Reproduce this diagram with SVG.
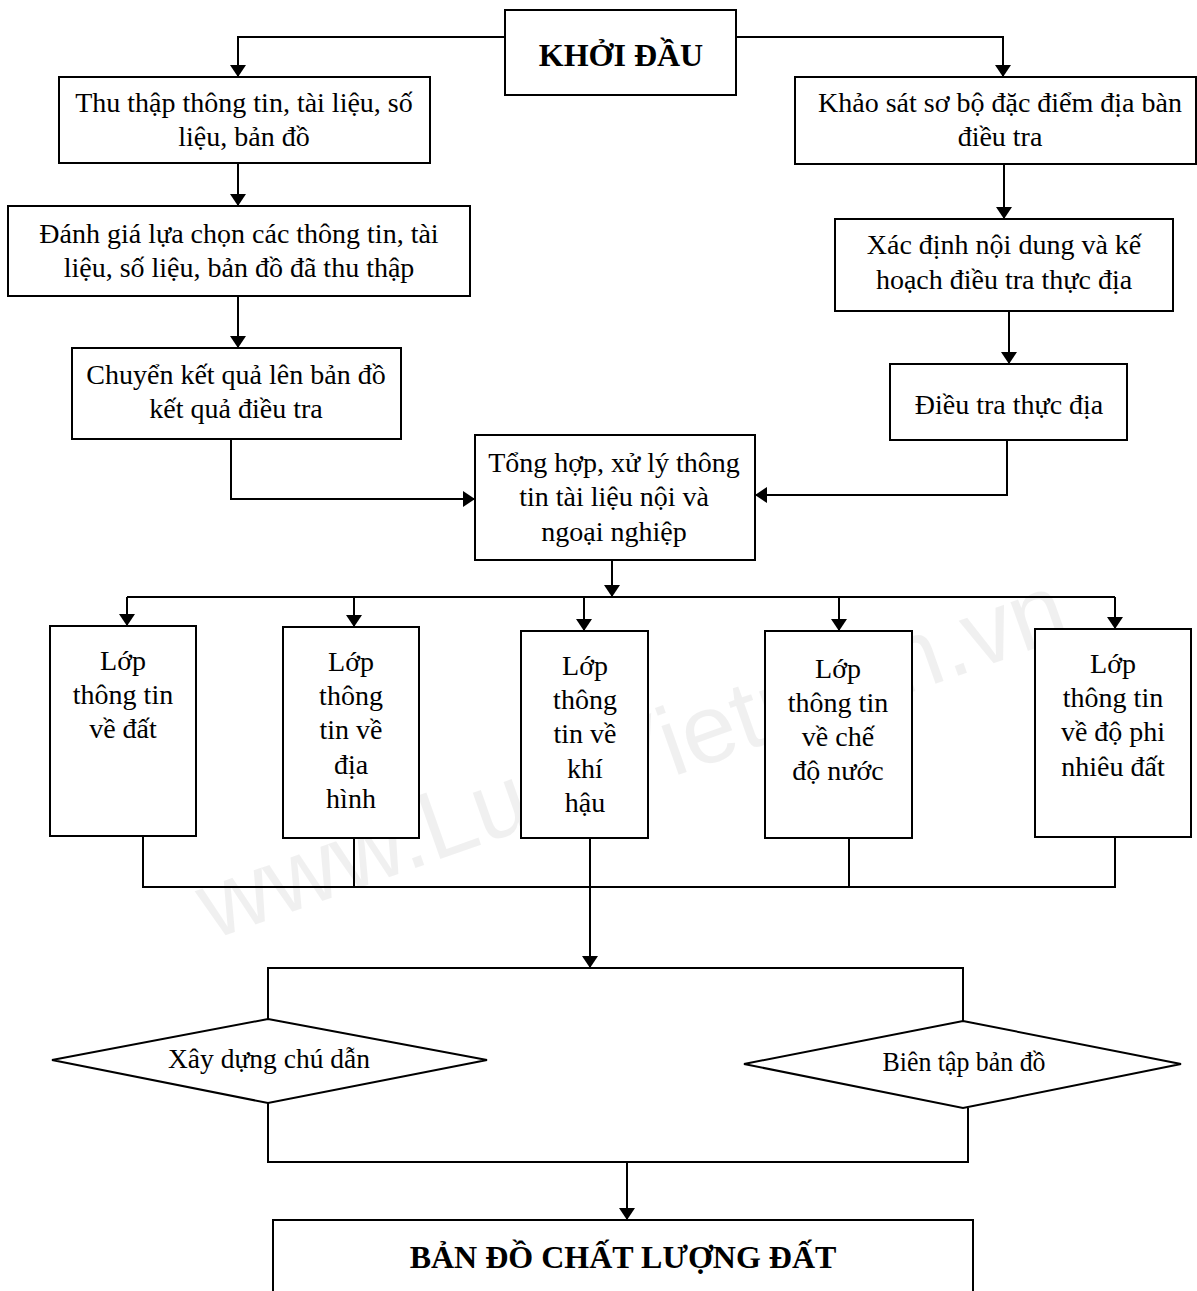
<svg xmlns="http://www.w3.org/2000/svg" width="1197" height="1291" viewBox="0 0 1197 1291">
<style>
.box{fill:#fff;stroke:#000;stroke-width:2}
.t{font-family:"Liberation Serif","Times New Roman",serif;font-size:28px;fill:#000;text-anchor:middle}
.b{font-weight:bold;font-size:32px}
.d{font-size:27px}
.c{fill:none;stroke:#000;stroke-width:2}
.wm{font-family:"Liberation Sans",Arial,sans-serif;font-size:98px;fill:#000;fill-opacity:0.06}
</style>
<defs>
<marker id="ah" viewBox="0 0 12 16" refX="12" refY="8" markerWidth="12" markerHeight="16" markerUnits="userSpaceOnUse" orient="auto">
<path d="M0,0 L12,8 L0,16 Z" fill="#000"/>
</marker>
</defs>
<rect width="1197" height="1291" fill="#fff"/>
<text class="wm" transform="translate(212,940) rotate(-19.5)">www.LuatVietnam.vn</text>

<g id="connectors">
<path class="c" d="M505,37 H238 V77" marker-end="url(#ah)"/>
<path class="c" d="M736,37 H1003 V77" marker-end="url(#ah)"/>
<path class="c" d="M238,163 V206" marker-end="url(#ah)"/>
<path class="c" d="M1004,164 V219" marker-end="url(#ah)"/>
<path class="c" d="M238,296 V348" marker-end="url(#ah)"/>
<path class="c" d="M1009,311 V364" marker-end="url(#ah)"/>
<path class="c" d="M231,439 V499 H475" marker-end="url(#ah)"/>
<path class="c" d="M1007,440 V495 H755" marker-end="url(#ah)"/>
<path class="c" d="M127,597 H1115"/>
<path class="c" d="M612,560 V597" marker-end="url(#ah)"/>
<path class="c" d="M127,597 V626" marker-end="url(#ah)"/>
<path class="c" d="M354,597 V627" marker-end="url(#ah)"/>
<path class="c" d="M584,597 V631" marker-end="url(#ah)"/>
<path class="c" d="M839,597 V631" marker-end="url(#ah)"/>
<path class="c" d="M1115,597 V629" marker-end="url(#ah)"/>
<path class="c" d="M143,836 V887 H1115 V837"/>
<path class="c" d="M354,838 V887"/>
<path class="c" d="M849,838 V887"/>
<path class="c" d="M590,838 V968" marker-end="url(#ah)"/>
<path class="c" d="M268,1019 V968 H963 V1021"/>
<path class="c" d="M268,1103 V1162 H968 V1108"/>
<path class="c" d="M627,1162 V1220" marker-end="url(#ah)"/>
</g>

<g id="start">
<rect class="box" x="505" y="10" width="231" height="85"/>
<text class="t b" x="621" y="66">KHỞI ĐẦU</text>
</g>
<g id="n-thuthap">
<rect class="box" x="59" y="77" width="371" height="86"/>
<text class="t" x="244" y="112">Thu thập thông tin, tài liệu, số</text>
<text class="t" x="244" y="146">liệu, bản đồ</text>
</g>
<g id="n-danhgia">
<rect class="box" x="8" y="206" width="462" height="90"/>
<text class="t" x="239" y="243">Đánh giá lựa chọn các thông tin, tài</text>
<text class="t" x="239" y="277">liệu, số liệu, bản đồ đã thu thập</text>
</g>
<g id="n-chuyen">
<rect class="box" x="72" y="348" width="329" height="91"/>
<text class="t" x="236" y="384">Chuyển kết quả lên bản đồ</text>
<text class="t" x="236" y="418">kết quả điều tra</text>
</g>
<g id="n-khaosat">
<rect class="box" x="795" y="77" width="401" height="87"/>
<text class="t" x="1000" y="112">Khảo sát sơ bộ đặc điểm địa bàn</text>
<text class="t" x="1000" y="146">điều tra</text>
</g>
<g id="n-xacdinh">
<rect class="box" x="835" y="219" width="338" height="92"/>
<text class="t" x="1004" y="254">Xác định nội dung và kế</text>
<text class="t" x="1004" y="289">hoạch điều tra thực địa</text>
</g>
<g id="n-dieutra">
<rect class="box" x="890" y="364" width="237" height="76"/>
<text class="t" x="1009" y="414">Điều tra thực địa</text>
</g>
<g id="n-tonghop">
<rect class="box" x="475" y="435" width="280" height="125"/>
<text class="t" x="614" y="472">Tổng hợp, xử lý thông</text>
<text class="t" x="614" y="506">tin tài liệu nội và</text>
<text class="t" x="614" y="541">ngoại nghiệp</text>
</g>
<g id="n-dat">
<rect class="box" x="50" y="626" width="146" height="210"/>
<text class="t" x="123" y="670">Lớp</text>
<text class="t" x="123" y="704">thông tin</text>
<text class="t" x="123" y="738">về đất</text>
</g>
<g id="n-diahinh">
<rect class="box" x="283" y="627" width="136" height="211"/>
<text class="t" x="351" y="671">Lớp</text>
<text class="t" x="351" y="705">thông</text>
<text class="t" x="351" y="739">tin về</text>
<text class="t" x="351" y="774">địa</text>
<text class="t" x="351" y="808">hình</text>
</g>
<g id="n-khihau">
<rect class="box" x="521" y="631" width="127" height="207"/>
<text class="t" x="585" y="675">Lớp</text>
<text class="t" x="585" y="709">thông</text>
<text class="t" x="585" y="743">tin về</text>
<text class="t" x="585" y="778">khí</text>
<text class="t" x="585" y="812">hậu</text>
</g>
<g id="n-chedonuoc">
<rect class="box" x="765" y="631" width="147" height="207"/>
<text class="t" x="838" y="678">Lớp</text>
<text class="t" x="838" y="712">thông tin</text>
<text class="t" x="838" y="746">về chế</text>
<text class="t" x="838" y="780">độ nước</text>
</g>
<g id="n-phinhieu">
<rect class="box" x="1035" y="629" width="156" height="208"/>
<text class="t" x="1113" y="673">Lớp</text>
<text class="t" x="1113" y="707">thông tin</text>
<text class="t" x="1113" y="741">về độ phi</text>
<text class="t" x="1113" y="776">nhiêu đất</text>
</g>
<g id="n-chudan">
<polygon class="box" points="268,1019 487,1060 268,1103 52,1060"/>
<text class="t d" x="269" y="1068" textLength="202" lengthAdjust="spacingAndGlyphs">Xây dựng chú dẫn</text>
</g>
<g id="n-bientap">
<polygon class="box" points="963,1021 1181,1064 963,1108 744,1064"/>
<text class="t d" x="964" y="1071" textLength="163" lengthAdjust="spacingAndGlyphs">Biên tập bản đồ</text>
</g>
<g id="n-bando">
<rect class="box" x="273" y="1220" width="700" height="90"/>
<text class="t b" x="623" y="1268">BẢN ĐỒ CHẤT LƯỢNG ĐẤT</text>
</g>
</svg>
